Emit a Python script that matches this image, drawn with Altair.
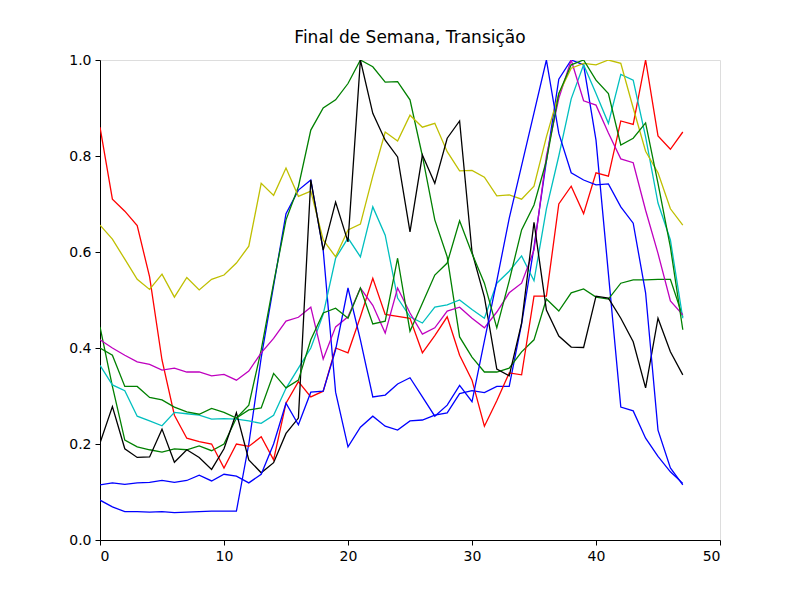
import altair as alt
import pandas as pd

x = list(range(48))

blue1 = [0.083,0.069,0.059,0.059,0.058,0.059,0.057,0.058,0.059,0.06,0.06,0.06,0.2,0.38,0.53,0.68,0.729,0.75,0.604,0.308,0.194,0.235,0.258,0.237,0.229,0.248,0.25,0.26,0.265,0.305,0.311,0.307,0.32,0.32,0.45,0.61,0.79,0.96,1.0,0.99,0.833,0.555,0.277,0.269,0.212,0.174,0.142,0.118]
green1 = [0.444,0.32,0.208,0.194,0.188,0.183,0.19,0.188,0.196,0.186,0.2,0.254,0.281,0.396,0.535,0.667,0.736,0.854,0.9,0.917,0.951,1.0,0.986,0.954,0.955,0.917,0.8,0.667,0.59,0.423,0.381,0.35,0.35,0.358,0.392,0.417,0.502,0.477,0.515,0.523,0.506,0.502,0.535,0.542,0.542,0.543,0.543,0.465]
red = [0.86,0.71,0.685,0.655,0.548,0.375,0.26,0.212,0.205,0.2,0.15,0.2,0.195,0.215,0.167,0.285,0.33,0.298,0.31,0.4,0.39,0.465,0.545,0.47,0.466,0.462,0.39,0.426,0.465,0.385,0.333,0.237,0.29,0.348,0.344,0.508,0.508,0.7,0.737,0.68,0.765,0.758,0.873,0.866,1.0,0.842,0.814,0.85]
cyan = [0.364,0.323,0.311,0.258,0.248,0.238,0.266,0.263,0.26,0.252,0.253,0.252,0.248,0.243,0.26,0.316,0.358,0.4,0.47,0.587,0.629,0.59,0.694,0.635,0.504,0.465,0.452,0.485,0.49,0.5,0.48,0.462,0.535,0.56,0.592,0.54,0.69,0.8,0.919,0.99,0.93,0.868,0.97,0.958,0.84,0.702,0.625,0.462]
magenta = [0.417,0.4,0.385,0.371,0.366,0.354,0.358,0.35,0.35,0.342,0.345,0.333,0.352,0.39,0.42,0.456,0.464,0.485,0.377,0.444,0.465,0.525,0.489,0.431,0.525,0.473,0.429,0.442,0.477,0.485,0.462,0.442,0.475,0.515,0.535,0.604,0.8,0.92,1.0,0.915,0.906,0.848,0.794,0.786,0.687,0.597,0.498,0.469]
yellow = [0.656,0.627,0.585,0.543,0.522,0.554,0.506,0.547,0.521,0.543,0.552,0.577,0.612,0.743,0.718,0.775,0.716,0.727,0.625,0.59,0.646,0.658,0.758,0.85,0.831,0.885,0.86,0.868,0.809,0.769,0.77,0.756,0.717,0.719,0.71,0.737,0.84,0.93,0.983,0.993,0.99,1.0,0.993,0.9,0.81,0.765,0.69,0.656]
black = [0.202,0.278,0.19,0.172,0.173,0.231,0.162,0.188,0.172,0.147,0.19,0.265,0.167,0.14,0.161,0.222,0.254,0.75,0.604,0.704,0.621,1.0,0.889,0.833,0.798,0.642,0.802,0.743,0.837,0.873,0.6,0.506,0.356,0.342,0.452,0.662,0.479,0.425,0.402,0.401,0.508,0.504,0.462,0.413,0.317,0.462,0.392,0.344]
blue2 = [0.115,0.119,0.116,0.119,0.12,0.124,0.12,0.124,0.135,0.123,0.137,0.133,0.119,0.137,0.2,0.285,0.24,0.308,0.31,0.396,0.525,0.417,0.298,0.302,0.325,0.338,0.298,0.258,0.281,0.322,0.288,0.415,0.54,0.67,0.78,0.89,1.0,0.847,0.765,0.75,0.74,0.742,0.694,0.66,0.515,0.229,0.15,0.115]
green2 = [0.4,0.385,0.32,0.32,0.297,0.292,0.277,0.267,0.262,0.274,0.266,0.254,0.271,0.275,0.347,0.317,0.333,0.417,0.473,0.483,0.462,0.525,0.45,0.456,0.587,0.435,0.493,0.552,0.577,0.665,0.597,0.535,0.442,0.54,0.646,0.698,0.79,0.93,0.99,1.0,0.958,0.93,0.823,0.837,0.869,0.743,0.61,0.438]

names = ["s1","s2","s3","s4","s5","s6","s7","s8","s9"]
series = [blue1, green1, red, cyan, magenta, yellow, black, blue2, green2]
colors = ["#0000ff","#008000","#ff0000","#00bfbf","#bf00bf","#bfbf00","#000000","#0000ff","#008000"]

rows = []
for n, s in zip(names, series):
    for xi, v in zip(x, s):
        rows.append({"s": n, "x": xi, "y": v})
df = pd.DataFrame(rows)

chart = alt.Chart(df).mark_line(strokeWidth=1.3, clip=True).encode(
    x=alt.X("x:Q", scale=alt.Scale(domain=[0, 50], nice=False),
            axis=alt.Axis(values=[0,10,20,30,40,50], title=None, grid=False, tickSize=5,
                          labelFontSize=14, labelColor="black", tickColor="black",
                          domainColor="black", labelFont="DejaVu Sans", labelPadding=4)),
    y=alt.Y("y:Q", scale=alt.Scale(domain=[0, 1], nice=False),
            axis=alt.Axis(values=[0,0.2,0.4,0.6,0.8,1.0], format=".1f", title=None, grid=False,
                          tickSize=5, labelFontSize=14, labelColor="black", tickColor="black",
                          domainColor="black", labelFont="DejaVu Sans", labelPadding=4)),
    color=alt.Color("s:N", scale=alt.Scale(domain=names, range=colors), legend=None),
    order=alt.Order("x:Q"),
).properties(
    width=620, height=480,
    title=alt.TitleParams("Final de Semana, Transição", fontSize=17, font="DejaVu Sans",
                          fontWeight="normal", color="black", offset=6),
    autosize=alt.AutoSizeParams(type="none"),
    padding={"left": 92, "top": 52, "right": 64, "bottom": 44},
).configure_view(stroke="black", strokeWidth=1.2).configure(background="white")

chart.save("out.html", embed_options={"renderer": "svg", "actions": False})
